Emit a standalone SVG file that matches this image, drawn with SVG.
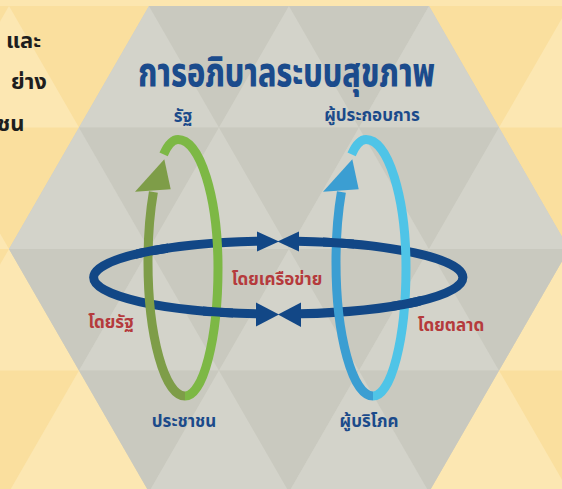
<svg xmlns="http://www.w3.org/2000/svg" width="562" height="489" viewBox="0 0 562 489">
<defs>
<style>
.y0{fill:#FADF9E}
.y1{fill:#FCE7B2}
.g0{fill:#C9C9BF}
.g1{fill:#D3D3CA}
.th{font-family:'Noto Sans Thai','Noto Sans Thai UI','Noto Sans Thai Looped',Loma,Garuda,'Noto Sans',sans-serif;font-weight:700}
.title{fill:#1B4B8C;font-size:40px;font-weight:800}
.lab{fill:#1B4A8A;font-size:17px;text-anchor:middle}
.red{fill:#B53A3C;font-size:17px;text-anchor:middle}
.side{fill:#1E1E1E;font-size:22px;font-weight:700}
.navy{fill:none;stroke:#124786;stroke-width:9}
.navyf{fill:#124786}
.gA{fill:none;stroke:#7DB845;stroke-width:9}
.gB{fill:none;stroke:#7E9D48;stroke-width:9}
.gBf{fill:#7E9D48}
.bA{fill:none;stroke:#4FC4E7;stroke-width:9}
.bB{fill:none;stroke:#3B9ED2;stroke-width:9}
.bBf{fill:#3B9ED2}
</style>
<clipPath id="cg1"><rect x="136" y="234" width="32" height="34"/></clipPath>
<clipPath id="cg2"><rect x="203" y="294" width="30" height="36"/></clipPath>
<clipPath id="cb1"><rect x="323" y="226" width="31" height="34"/></clipPath>
<clipPath id="cb2"><rect x="391" y="286" width="30" height="36"/></clipPath>
</defs>

<g id="background">
<rect x="0" y="0" width="562" height="489" class="y0"/>
<polygon class="y1" points="-61,127.5 9,6 79,127.5"/>
<polygon class="y1" points="-131,249 -61,127.5 9,249"/>
<polygon class="y1" points="-61,370.5 9,249 79,370.5"/>
<polygon class="y1" points="9,492 79,370.5 149,492"/>
<polygon class="y1" points="639,127.5 569,6 499,127.5"/>
<polygon class="y1" points="639,370.5 569,249 499,370.5"/>
<polygon class="y1" points="569,492 499,370.5 429,492"/>
<rect x="0" y="0" width="562" height="6" fill="#FCE6AF"/>
</g>

<g id="hexagon">
<polygon points="149,6 429,6 569,249 429,492 149,492 9,249" fill="#CECEC4"/>
<polygon class="g1" points="79,127.5 149,6 219,127.5"/>
<polygon class="g0" points="149,6 289,6 219,127.5"/>
<polygon class="g1" points="219,127.5 289,6 359,127.5"/>
<polygon class="g0" points="289,6 429,6 359,127.5"/>
<polygon class="g1" points="359,127.5 429,6 499,127.5"/>
<polygon class="g1" points="9,249 79,127.5 149,249"/>
<polygon class="g0" points="79,127.5 219,127.5 149,249"/>
<polygon class="g1" points="149,249 219,127.5 289,249"/>
<polygon class="g0" points="219,127.5 359,127.5 289,249"/>
<polygon class="g1" points="289,249 359,127.5 429,249"/>
<polygon class="g0" points="359,127.5 499,127.5 429,249"/>
<polygon class="g1" points="429,249 499,127.5 569,249"/>
<polygon class="g0" points="9,249 149,249 79,370.5"/>
<polygon class="g1" points="79,370.5 149,249 219,370.5"/>
<polygon class="g0" points="149,249 289,249 219,370.5"/>
<polygon class="g1" points="219,370.5 289,249 359,370.5"/>
<polygon class="g0" points="289,249 429,249 359,370.5"/>
<polygon class="g1" points="359,370.5 429,249 499,370.5"/>
<polygon class="g0" points="429,249 569,249 499,370.5"/>
<polygon class="g0" points="79,370.5 219,370.5 149,492"/>
<polygon class="g1" points="149,492 219,370.5 289,492"/>
<polygon class="g0" points="219,370.5 359,370.5 289,492"/>
<polygon class="g1" points="289,492 359,370.5 429,492"/>
<polygon class="g0" points="359,370.5 499,370.5 429,492"/>
</g>

<g id="side-text" class="th side">
<text x="6" y="48">และ</text>
<text x="11" y="89">ย่าง</text>
<text x="-3" y="131">ชน</text>
</g>

<g id="title">
<text class="th title" x="138" y="86" textLength="297" lengthAdjust="spacingAndGlyphs">การอภิบาลระบบสุขภาพ</text>
</g>

<g id="connectors">
<path id="navyL" class="navy" d="M259,241.2 A183.5,36.5 0 0 0 257,313.8"/>
<path id="navyR" class="navy" d="M297,241.2 A183.5,36.5 0 0 1 300,313.8"/>
<polygon class="navyf" points="257,231.5 279,241.5 257,251.5"/>
<polygon class="navyf" points="299,231.5 277.5,241.5 299,251.5"/>
<polygon class="navyf" points="256,302.5 279,314.5 256,326.5"/>
<polygon class="navyf" points="301,302.5 278,314.5 301,327"/>
</g>

<g id="loop-state">
<path class="gA" d="M163.6,154.4 C167.7,145.1 172.6,139.5 178,139.5 C200.1,139.5 218,197 218,268 C218,338.7 203.2,396 185,396"/>
<path class="gB" d="M185,396 C164.6,396 148,336 148,262 C148,237.2 149.9,212.6 153.4,192.1"/>
<polygon class="gBf" points="164.3,159.3 135,191.7 170.7,189.3"/>
</g>

<g id="loop-market" transform="translate(188,0)">
<path class="bA" d="M163.6,154.4 C167.7,145.1 172.6,139.5 178,139.5 C200.1,139.5 218,197 218,268 C218,338.7 203.2,396 185,396"/>
<path class="bB" d="M185,396 C164.6,396 148,336 148,262 C148,237.2 149.9,212.6 153.4,192.1"/>
<polygon class="bBf" points="164.3,159.3 135,191.7 170.7,189.3"/>
</g>

<g id="connector-overlaps">
<path class="navy" clip-path="url(#cg1)" d="M259,241.2 A183.5,36.5 0 0 0 257,313.8"/>
<path class="navy" clip-path="url(#cg2)" d="M259,241.2 A183.5,36.5 0 0 0 257,313.8"/>
<path class="navy" clip-path="url(#cb1)" d="M297,241.2 A183.5,36.5 0 0 1 300,313.8"/>
<path class="navy" clip-path="url(#cb2)" d="M297,241.2 A183.5,36.5 0 0 1 300,313.8"/>
</g>

<g id="node-state"><text class="th lab" x="183" y="122">รัฐ</text></g>
<g id="node-operator"><text class="th lab" x="372" y="121">ผู้ประกอบการ</text></g>
<g id="node-people"><text class="th lab" x="184" y="427">ประชาชน</text></g>
<g id="node-consumer"><text class="th lab" x="369" y="427">ผู้บริโภค</text></g>
<g id="label-network"><text class="th red" x="277" y="285">โดยเครือข่าย</text></g>
<g id="label-bystate"><text class="th red" x="111" y="328">โดยรัฐ</text></g>
<g id="label-market"><text class="th red" x="451" y="331">โดยตลาด</text></g>
</svg>
